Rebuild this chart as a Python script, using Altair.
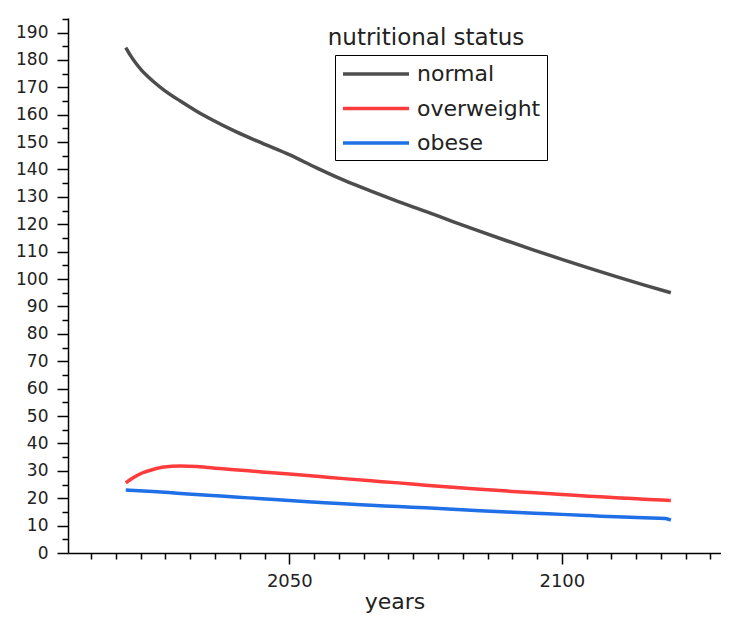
import altair as alt
import pandas as pd

# ---- data ----
years_normal = [2020, 2021, 2022, 2023, 2024, 2025, 2027, 2030, 2033, 2036, 2040, 2045, 2050,
                2055, 2060, 2065, 2070, 2075, 2080, 2085, 2090, 2095, 2100, 2105, 2110, 2115, 2120]
normal = [184.5, 181.2, 178.4, 176.0, 174.0, 172.2, 169.0, 165.0, 161.3, 158.0, 154.0, 149.6, 145.4,
          140.6, 136.1, 132.1, 128.3, 124.7, 121.0, 117.4, 113.9, 110.5, 107.2, 104.0, 100.9, 97.9, 95.0]

years_over = [2020, 2021, 2022, 2023, 2025, 2027, 2030, 2033, 2035, 2040, 2045, 2050, 2055,
              2060, 2065, 2070, 2075, 2080, 2085, 2090, 2095, 2100, 2105, 2110, 2115, 2120]
overweight = [25.6, 27.0, 28.2, 29.2, 30.5, 31.4, 31.8, 31.6, 31.2, 30.4, 29.6, 28.8, 28.0,
              27.15, 26.35, 25.6, 24.75, 24.0, 23.3, 22.6, 21.95, 21.35, 20.75, 20.2, 19.6, 19.2]

years_obese = [2020, 2025, 2030, 2035, 2040, 2045, 2050, 2055, 2060, 2065, 2070, 2075,
               2080, 2085, 2090, 2095, 2100, 2105, 2110, 2115, 2119, 2120]
obese = [23.0, 22.45, 21.75, 21.1, 20.45, 19.8, 19.15, 18.55, 17.95, 17.45, 16.95, 16.5,
         16.0, 15.45, 14.95, 14.5, 14.1, 13.65, 13.2, 12.85, 12.6, 12.0]

categories = ["normal", "overweight", "obese"]
colors = ["#4d4d4d", "#ff3b3b", "#1f6fe6"]

FONT = "DejaVu Sans"

rows = []
for y, v in zip(years_normal, normal):
    rows.append({"year": y, "value": v, "status": "normal"})
for y, v in zip(years_over, overweight):
    rows.append({"year": y, "value": v, "status": "overweight"})
for y, v in zip(years_obese, obese):
    rows.append({"year": y, "value": v, "status": "obese"})
df = pd.DataFrame(rows)

x_ticks = [round(2050 + k * 50 / 11, 4) for k in range(-9, 18)]
y_ticks = list(range(0, 200, 5))

x_major = "abs(datum.value-2050)<0.01 || abs(datum.value-2100)<0.01"
x_axis = alt.Axis(
    values=x_ticks,
    format="d",
    labelExpr=x_major + " ? datum.label : ''",
    tickSize={"condition": {"test": x_major, "value": 11}, "value": 6},
    labelFontSize=18, labelFont=FONT, labelPadding=8,
    labelOverlap=False, labelFlush=False,
    title="years", titleFont=FONT, titleFontSize=22, titleFontWeight="normal",
    titleBaseline="alphabetic", titleY=55, titleColor="#222",
)
y_axis = alt.Axis(
    values=y_ticks,
    format="d",
    labelExpr="datum.value % 10 === 0 ? datum.label : ''",
    tickSize={"condition": {"test": "datum.value % 10 === 0", "value": 11}, "value": 6},
    labelFontSize=17, labelFont=FONT, labelPadding=9,
    labelOverlap=False, labelFlush=False,
    title=None,
)

lines = alt.Chart(df).mark_line(strokeWidth=3.5, interpolate="monotone").encode(
    x=alt.X("year:Q", scale=alt.Scale(domain=[2009.4, 2129.2], nice=False, zero=False), axis=x_axis),
    y=alt.Y("value:Q", scale=alt.Scale(domain=[0, 195.3], nice=False), axis=y_axis),
    color=alt.Color(
        "status:N",
        scale=alt.Scale(domain=categories, range=colors),
        sort=categories,
        legend=alt.Legend(
            title=None, orient="none", legendX=267, legendY=37,
            strokeColor="black", padding=6,
            symbolType="M-1,0H5", symbolSize=484, symbolStrokeWidth=3.5,
            labelFont=FONT, labelFontSize=22, labelColor="#222", labelOffset=50,
            rowPadding=10.5,
        ),
    ),
)

legend_title = alt.Chart(pd.DataFrame({"t": ["nutritional status"]})).mark_text(
    font=FONT, fontSize=23, align="center", baseline="alphabetic", color="#222"
).encode(x=alt.value(358), y=alt.value(27), text="t:N")

chart = alt.layer(lines, legend_title).properties(
    width=653, height=535,
    padding={"left": 60, "top": 10, "right": 0, "bottom": 60},
    autosize=alt.AutoSizeParams(type="none"),
).configure_view(stroke=None).configure_axis(
    grid=False, domainColor="black", domainWidth=1.5, tickColor="black", tickWidth=1.5,
    labelColor="#222",
)

chart.save("out.html", embed_options={"renderer": "svg", "actions": False})
